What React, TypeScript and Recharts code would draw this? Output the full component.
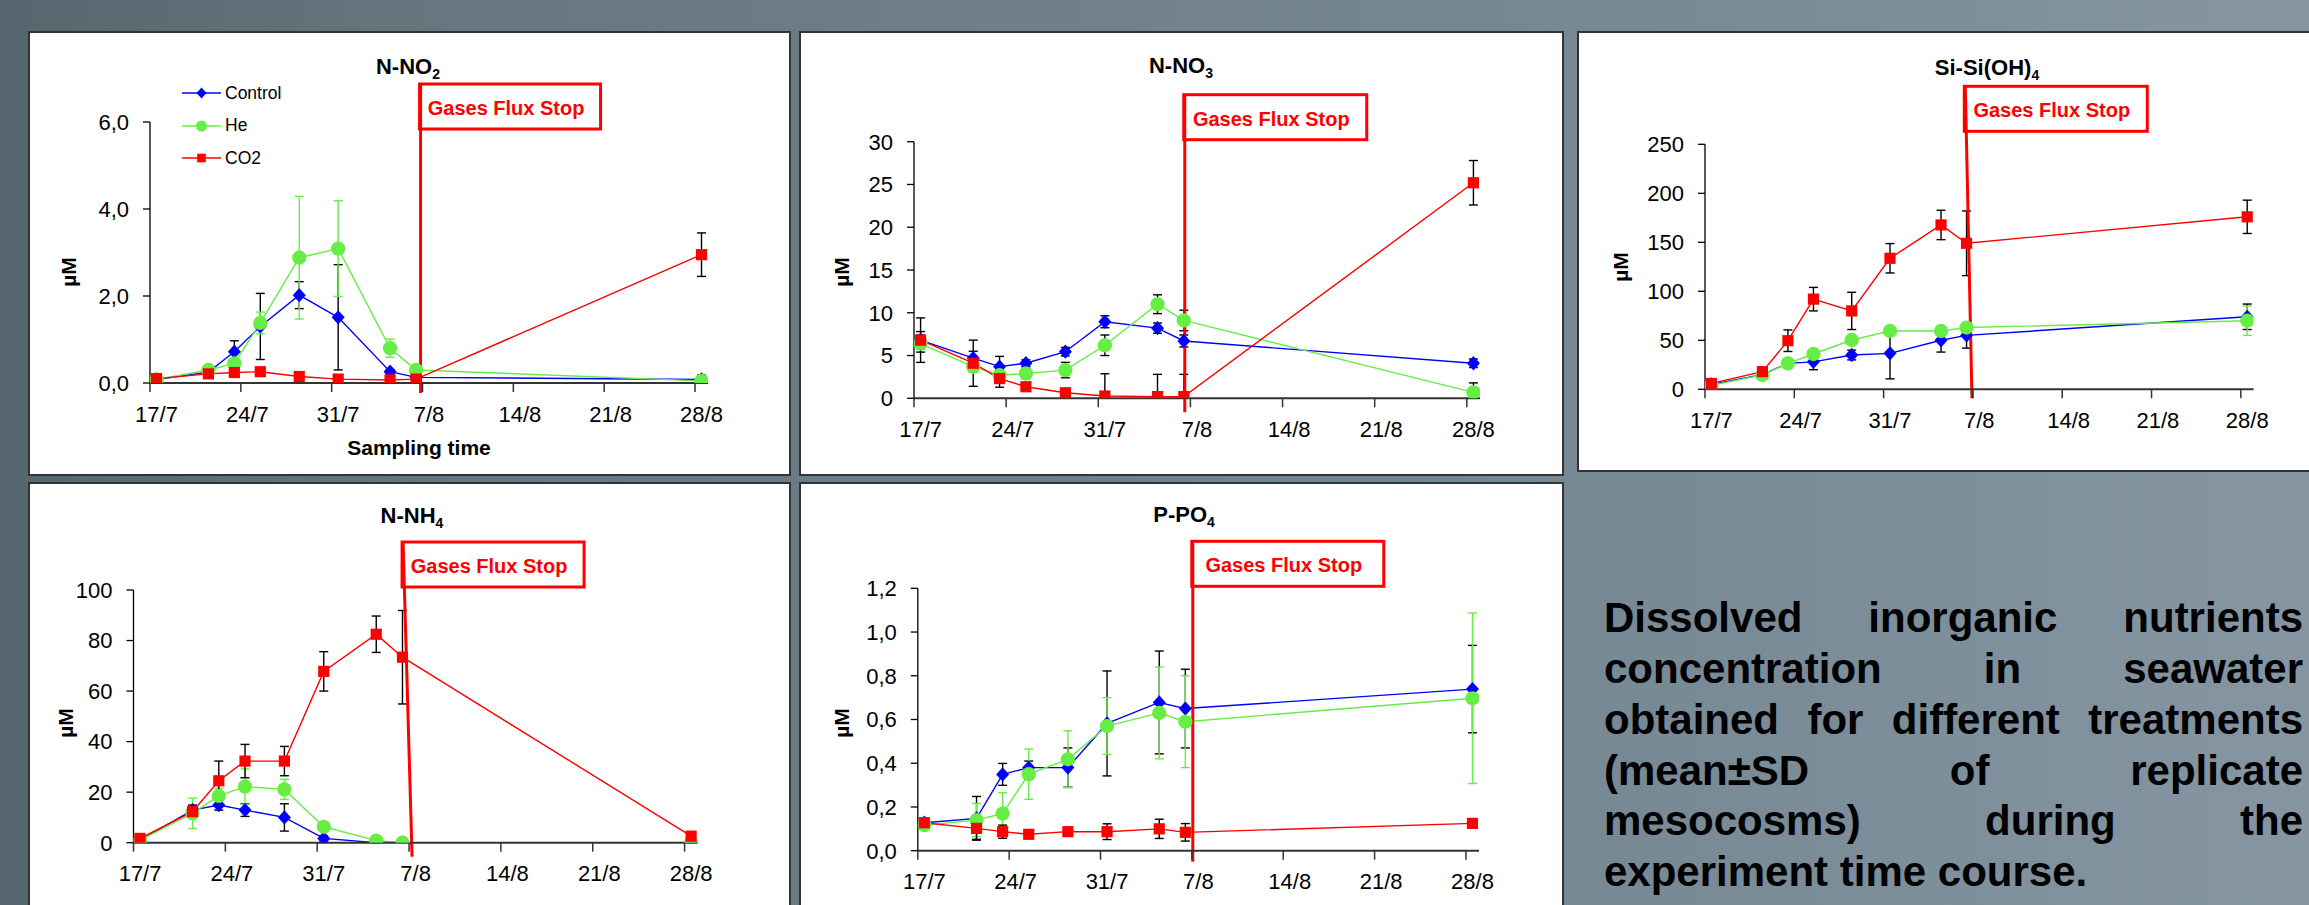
import React from "react";
import { LineChart, Line, XAxis, YAxis, ErrorBar, ReferenceLine, Legend } from "recharts";

// sampling days, counted from 17/7
const SAMPLE_DAYS = [0, 4, 6, 8, 11, 14, 18, 20, 42];
const SAMPLE_DATES = ["17/7", "21/7", "23/7", "25/7", "28/7", "31/7", "4/8", "6/8", "28/8"];
const X_TICK_LABELS = ["17/7", "24/7", "31/7", "7/8", "14/8", "21/8", "28/8"];
const SERIES_ORDER = ["control", "he", "co2"];

// N-NO2
const NO2_CONTROL = [0.08, 0.25, 0.72, 1.3, 2.02, 1.51, 0.26, 0.13, 0.08];
const NO2_CONTROL_SD = [0.02, 0.05, 0.25, 0.76, 0.31, 1.21, 0.05, 0.03, 0.1];
const NO2_HE = [0.08, 0.3, 0.45, 1.38, 2.88, 3.09, 0.8, 0.3, 0.05];
const NO2_HE_SD = [0.03, 0.05, 0.1, 0.25, 1.41, 1.1, 0.21, 0.05, 0.03];
const NO2_CO2 = [0.1, 0.21, 0.24, 0.26, 0.15, 0.09, 0.07, 0.09, 2.95];
const NO2_CO2_SD = [0.02, 0.06, 0.08, 0.06, 0.05, 0.03, 0.05, 0.05, 0.5];

// N-NO3
const NO3_CONTROL = [6.8, 4.7, 3.7, 4.1, 5.45, 8.95, 8.2, 6.7, 4.1];
const NO3_CONTROL_SD = [2.6, 0.8, 1.2, 0.4, 0.5, 0.7, 0.6, 0.7, 0.5];
const NO3_HE = [6.4, 3.7, 2.7, 2.9, 3.3, 6.2, 11.0, 9.1, 0.7];
const NO3_HE_SD = [1.0, 0.6, 0.5, 0.6, 0.9, 1.2, 1.1, 1.2, 1.1];
const NO3_CO2 = [6.8, 4.1, 2.3, 1.35, 0.65, 0.27, 0.2, 0.2, 25.2];
const NO3_CO2_SD = [1.0, 2.7, 1.0, 0.5, 0.3, 2.6, 2.6, 2.6, 2.6];

// Si-Si(OH)4
const SI_CONTROL = [5, 15, 26.5, 28, 35, 36.7, 50, 55, 74];
const SI_CONTROL_SD = [2, 3, 4, 8, 5, 26, 12, 13, 13];
const SI_HE = [4, 14.6, 26.5, 36, 50.3, 59.5, 59.5, 63, 70];
const SI_HE_SD = [2, 3, 4, 4, 4, 4, 4, 4, 15];
const SI_CO2 = [6, 18, 49.6, 92, 80, 133.7, 167.7, 149, 176];
const SI_CO2_SD = [3, 4, 11, 12, 19, 15, 15, 33, 17];

// N-NH4
const NH4_CONTROL = [1, 12.9, 14.9, 12.9, 10, 1.7, 0, 0, 0];
const NH4_CONTROL_SD = [0.5, 2, 2, 2.5, 5.4, 1, 0.3, 0, 0];
const NH4_HE = [1, 11.6, 18.5, 22.2, 21.1, 6.3, 0.8, 0, 0];
const NH4_HE_SD = [0.5, 6, 3, 7, 4, 1, 0.5, 0, 0];
const NH4_CO2 = [1.7, 12.3, 24.5, 32.3, 32.3, 67.8, 82.5, 73.4, 2.6];
const NH4_CO2_SD = [0.5, 2, 7.8, 6.6, 5.8, 7.8, 7.2, 18.5, 1];

// P-PO4
const PO4_CONTROL = [0.128, 0.148, 0.349, 0.38, 0.38, 0.582, 0.678, 0.65, 0.739];
const PO4_CONTROL_SD = [0.01, 0.1, 0.05, 0.03, 0.09, 0.24, 0.235, 0.18, 0.2];
const PO4_HE = [0.117, 0.14, 0.17, 0.35, 0.418, 0.57, 0.63, 0.59, 0.697];
const PO4_HE_SD = [0.02, 0.076, 0.095, 0.115, 0.13, 0.13, 0.21, 0.21, 0.39];
const PO4_CO2 = [0.128, 0.102, 0.087, 0.075, 0.087, 0.087, 0.1, 0.084, 0.125];
const PO4_CO2_SD = [0.01, 0.05, 0.03, 0.01, 0.015, 0.036, 0.044, 0.04, 0.02];

const NOTE_LINES = [
  "Dissolved inorganic nutrients",
  "concentration in seawater",
  "obtained for different treatments",
  "(mean±SD of replicate",
  "mesocosms) during the",
  "experiment time course.",
];

const FONT = '"Liberation Sans", Arial, sans-serif';
const NARROW = '"Liberation Sans Narrow", "Liberation Sans", Arial, sans-serif';
const BLUE = "#0000ff";
const GREEN = "#66ee44";
const RED = "#ff0000";

const X_DOMAIN: [number, number] = [-0.5, 42.5];
const X_TICKS = X_TICK_LABELS.map((_, i) => i * 7 - 0.5);

// error bars are clipped at the zero line, like in the original sheet
const err = (v: number, sd: number) => (sd > 0 ? [Math.min(sd, v), sd] : null);

const buildRows = (c: number[], cSd: number[], h: number[], hSd: number[], k: number[], kSd: number[]) =>
  SAMPLE_DAYS.map((day, i) => ({
    day,
    date: SAMPLE_DATES[i],
    control: c[i],
    controlErr: err(c[i], cSd[i]),
    he: h[i],
    heErr: err(h[i], hSd[i]),
    co2: k[i],
    co2Err: err(k[i], kSd[i]),
  }));

const markerFor = (key: string, cx: number, cy: number, s: number) => {
  if (key === "control")
    return <path d={`M${cx},${cy - s * 0.55} L${cx + s * 0.5},${cy} L${cx},${cy + s * 0.55} L${cx - s * 0.5},${cy} Z`} fill={BLUE} />;
  if (key === "he") return <circle cx={cx} cy={cy} r={s * 0.55} fill={GREEN} />;
  return <rect x={cx - s * 0.43} y={cy - s * 0.43} width={s * 0.86} height={s * 0.86} fill={RED} />;
};

const makeDot = (key: string) => (p: any) => {
  if (p.cy == null || isNaN(p.cy)) return <g key={`${key}-${p.index}`} />;
  return <g key={`${key}-${p.index}`}>{markerFor(key, p.cx, p.cy, 13)}</g>;
};

const renderLegend = (props: any) => {
  const items = [...(props.payload || [])].sort(
    (a: any, b: any) => SERIES_ORDER.indexOf(a.dataKey) - SERIES_ORDER.indexOf(b.dataKey)
  );
  return (
    <div style={{ fontFamily: FONT, fontSize: 17.5, color: "#000" }}>
      {items.map((e: any) => (
        <div key={e.value} style={{ display: "flex", alignItems: "center", height: 32.5 }}>
          <svg width={39} height={14}>
            <line x1={0} y1={7} x2={39} y2={7} stroke={e.color} strokeWidth={1.5} />
            {markerFor(e.dataKey, 19.5, 7, 10)}
          </svg>
          <span style={{ marginLeft: 4 }}>{e.value}</span>
        </div>
      ))}
    </div>
  );
};

interface PanelSpec {
  left: number;
  top: number;
  width: number;
  height: number;
  title: string;
  sub: string;
  titleX: number;
  titleBase: number;
  plot: { left: number; top: number; right: number; bottom: number };
  yMax: number;
  yTicks: number[];
  decimals: number;
  rows: any[];
  stop: [number, number];
  boxRise: number;
  lineDrop: number;
  boxWidth: number;
  unitY: number;
  unitX: number;
  heErr: string;
  legend?: boolean;
  xLabel?: string;
}

const makeStop = (spec: PanelSpec) => (p: any) => {
  const { x1, y1, x2, y2 } = p;
  if ([x1, y1, x2, y2].some((v) => v == null || isNaN(v))) return <g />;
  const first = y1 < y2;
  const tx = first ? x1 : x2;
  const ty = first ? y1 : y2;
  const bx = first ? x2 : x1;
  const by = first ? y2 : y1;
  const slope = (bx - tx) / (by - ty);
  const x0 = tx - slope * spec.boxRise;
  const y0 = ty - spec.boxRise;
  const xe = bx + slope * spec.lineDrop;
  const ye = by + spec.lineDrop;
  return (
    <g>
      <rect x={x0 - 1} y={y0} width={spec.boxWidth} height={45} fill="#fff" stroke={RED} strokeWidth={3} />
      <line x1={x0} y1={y0} x2={xe} y2={ye} stroke={RED} strokeWidth={3} />
      <text x={x0 + spec.boxWidth / 2 - 5} y={y0 + 31} textAnchor="middle" fill={RED} fontFamily={NARROW} fontWeight="bold" fontSize={20}>
        Gases Flux Stop
      </text>
    </g>
  );
};

function Panel({ spec }: { spec: PanelSpec }) {
  const { width, height, plot } = spec;
  const halfSlot = (plot.right - plot.left) / 43 / 2;
  const xTick = (p: any) => {
    const i = Math.round((p.payload.value + 0.5) / 7);
    return (
      <text x={p.x + halfSlot} y={p.y} dy="0.71em" textAnchor="middle" fontSize={22} fontFamily={FONT} fill="#000">
        {X_TICK_LABELS[i]}
      </text>
    );
  };
  const fmt = (v: number) => v.toFixed(spec.decimals).replace(".", ",");
  const unitLabel = () => (
    <text
      transform={`translate(${spec.unitX},${spec.unitY}) rotate(-90)`}
      textAnchor="middle"
      dominantBaseline="central"
      fontFamily={FONT}
      fontWeight="bold"
      fontSize={21}
      fill="#000"
    >
      µM
    </text>
  );
  const xLabel = spec.xLabel
    ? () => (
        <text x={(plot.left + plot.right) / 2 - 10} y={height - 21} textAnchor="middle" fontFamily={FONT} fontWeight="bold" fontSize={21} fill="#000">
          {spec.xLabel}
        </text>
      )
    : undefined;

  return (
    <div style={{ position: "absolute", left: spec.left, top: spec.top, width, height, background: "#fff" }}>
      <div style={{ position: "absolute", left: 0, top: 0 }}>
        <LineChart width={width} height={height} data={spec.rows} margin={{ top: plot.top, right: width - plot.right, bottom: 0, left: 0 }}>
          <XAxis
            dataKey="day"
            type="number"
            domain={X_DOMAIN}
            ticks={X_TICKS}
            interval={0}
            allowDataOverflow
            height={height - plot.bottom}
            tick={xTick}
            tickSize={9}
            tickMargin={14}
            axisLine={{ stroke: "#333", strokeWidth: 2 }}
            tickLine={{ stroke: "#333", strokeWidth: 1.5 }}
            label={xLabel}
          />
          <YAxis
            type="number"
            domain={[0, spec.yMax]}
            ticks={spec.yTicks}
            interval={0}
            allowDataOverflow
            width={plot.left}
            tickSize={7}
            tickMargin={14}
            tick={{ fontSize: 22, fill: "#000", fontFamily: FONT }}
            tickFormatter={fmt}
            axisLine={{ stroke: "#000", strokeWidth: 1.3 }}
            tickLine={{ stroke: "#000", strokeWidth: 1.3 }}
            label={unitLabel}
          />
          {spec.legend && (
            <Legend
              layout="vertical"
              align="center"
              verticalAlign="middle"
              content={renderLegend}
              wrapperStyle={{ left: 154, top: 46, width: 140 }}
            />
          )}
          <Line dataKey="control" name="Control" stroke={BLUE} strokeWidth={1.4} dot={makeDot("control")} activeDot={false} isAnimationActive={false} connectNulls>
            <ErrorBar dataKey="controlErr" direction="y" width={4.5} stroke="#000" strokeWidth={1.4} isAnimationActive={false} />
          </Line>
          <Line dataKey="he" name="He" stroke={GREEN} strokeWidth={1.4} dot={makeDot("he")} activeDot={false} isAnimationActive={false} connectNulls>
            <ErrorBar dataKey="heErr" direction="y" width={4.5} stroke={spec.heErr} strokeWidth={1.4} isAnimationActive={false} />
          </Line>
          <Line dataKey="co2" name="CO2" stroke={RED} strokeWidth={1.4} dot={makeDot("co2")} activeDot={false} isAnimationActive={false} connectNulls>
            <ErrorBar dataKey="co2Err" direction="y" width={4.5} stroke="#000" strokeWidth={1.4} isAnimationActive={false} />
          </Line>
          <ReferenceLine
            segment={[
              { x: spec.stop[0], y: spec.yMax },
              { x: spec.stop[1], y: 0 },
            ]}
            ifOverflow="visible"
            shape={makeStop(spec)}
          />
        </LineChart>
      </div>
      <div
        style={{
          position: "absolute",
          left: spec.titleX - 150,
          width: 300,
          top: spec.titleBase - 18.6,
          textAlign: "center",
          fontFamily: FONT,
          fontWeight: "bold",
          fontSize: 22,
          lineHeight: "22px",
          color: "#000",
        }}
      >
        {spec.title}
        <span style={{ fontSize: 14, position: "relative", top: 5 }}>{spec.sub}</span>
      </div>
      <div style={{ position: "absolute", inset: 0, border: "2px solid #333", pointerEvents: "none" }} />
    </div>
  );
}

const PANELS: PanelSpec[] = [
  {
    left: 28, top: 31, width: 763, height: 445,
    title: "N-NO", sub: "2", titleX: 380, titleBase: 44,
    plot: { left: 122, top: 91, right: 680, bottom: 352 },
    yMax: 6, yTicks: [0, 2, 4, 6], decimals: 1,
    rows: buildRows(NO2_CONTROL, NO2_CONTROL_SD, NO2_HE, NO2_HE_SD, NO2_CO2, NO2_CO2_SD),
    stop: [20.35, 20.35], boxRise: 38, lineDrop: 10, boxWidth: 181,
    unitX: 40, unitY: 241, heErr: GREEN, legend: true, xLabel: "Sampling time",
  },
  {
    left: 799, top: 31, width: 765, height: 445,
    title: "N-NO", sub: "3", titleX: 382, titleBase: 43,
    plot: { left: 115, top: 110.7, right: 681, bottom: 367.3 },
    yMax: 30, yTicks: [0, 5, 10, 15, 20, 25, 30], decimals: 0,
    rows: buildRows(NO3_CONTROL, NO3_CONTROL_SD, NO3_HE, NO3_HE_SD, NO3_CO2, NO3_CO2_SD),
    stop: [20.07, 20.07], boxRise: 47, lineDrop: 14, boxWidth: 183,
    unitX: 42, unitY: 241, heErr: "#000",
  },
  {
    left: 1577, top: 31, width: 740, height: 441,
    title: "Si-Si(OH)", sub: "4", titleX: 410, titleBase: 45,
    plot: { left: 128, top: 113.3, right: 676.6, bottom: 358.3 },
    yMax: 250, yTicks: [0, 50, 100, 150, 200, 250], decimals: 0,
    rows: buildRows(SI_CONTROL, SI_CONTROL_SD, SI_HE, SI_HE_SD, SI_CO2, SI_CO2_SD),
    stop: [20.0, 20.41], boxRise: 58, lineDrop: 9, boxWidth: 183,
    unitX: 43, unitY: 236, heErr: GREEN,
  },
  {
    left: 28, top: 482, width: 763, height: 440,
    title: "N-NH", sub: "4", titleX: 384, titleBase: 42,
    plot: { left: 105.5, top: 108, right: 669.7, bottom: 360.7 },
    yMax: 100, yTicks: [0, 20, 40, 60, 80, 100], decimals: 0,
    rows: buildRows(NH4_CONTROL, NH4_CONTROL_SD, NH4_HE, NH4_HE_SD, NH4_CO2, NH4_CO2_SD),
    stop: [20.15, 20.7], boxRise: 48, lineDrop: 14, boxWidth: 182,
    unitX: 37.5, unitY: 241, heErr: GREEN,
  },
  {
    left: 799, top: 482, width: 765, height: 440,
    title: "P-PO", sub: "4", titleX: 385, titleBase: 41,
    plot: { left: 118.8, top: 106.3, right: 680, bottom: 368.7 },
    yMax: 1.2, yTicks: [0, 0.2, 0.4, 0.6, 0.8, 1.0, 1.2], decimals: 1,
    rows: buildRows(PO4_CONTROL, PO4_CONTROL_SD, PO4_HE, PO4_HE_SD, PO4_CO2, PO4_CO2_SD),
    stop: [20.57, 20.57], boxRise: 47, lineDrop: 11, boxWidth: 192,
    unitX: 42, unitY: 241, heErr: GREEN,
  },
];

export default function App() {
  return (
    <div
      style={{
        position: "fixed",
        left: 0,
        top: 0,
        width: 2309,
        height: 905,
        overflow: "hidden",
        background: "linear-gradient(90deg, #56666f 0%, #66767f 18%, #6f808c 45%, #7a8b98 75%, #8595a2 100%)",
      }}
    >
      {PANELS.map((p) => (
        <Panel key={p.title + p.sub} spec={p} />
      ))}
      <div
        style={{
          position: "absolute",
          left: 1604,
          top: 593.4,
          width: 699,
          fontFamily: FONT,
          fontWeight: "bold",
          fontSize: 42,
          lineHeight: "50.7px",
          color: "#000",
        }}
      >
        {NOTE_LINES.map((line, i) => (
          <div
            key={i}
            style={{
              textAlign: i === NOTE_LINES.length - 1 ? "left" : "justify",
              textAlignLast: i === NOTE_LINES.length - 1 ? "left" : "justify",
              whiteSpace: "nowrap",
            }}
          >
            {line}
          </div>
        ))}
      </div>
    </div>
  );
}
